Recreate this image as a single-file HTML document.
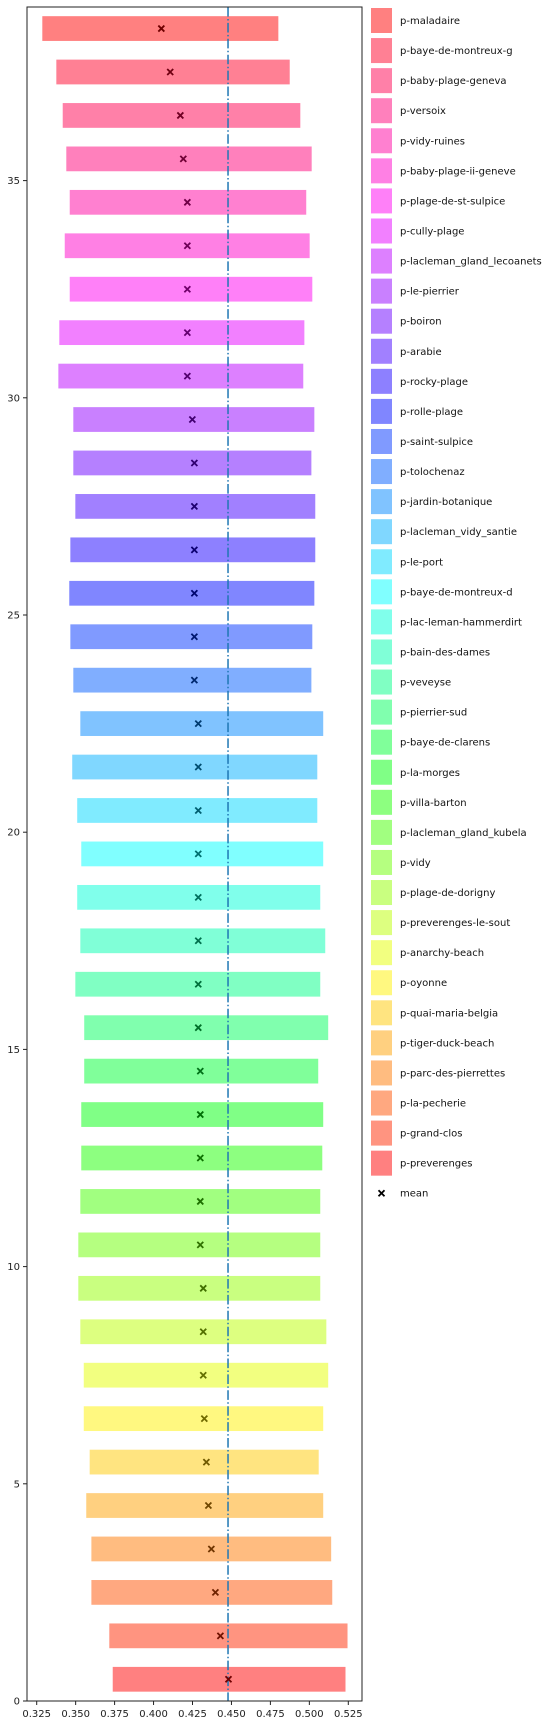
<!DOCTYPE html>
<html><head><meta charset="utf-8"><style>
html,body{margin:0;padding:0;background:#fff;}
svg{display:block;font-family:"DejaVu Sans","Liberation Sans",sans-serif;}
</style></head><body>
<svg id="chart" width="551" height="1727" xmlns="http://www.w3.org/2000/svg">
<g id="plot"></g>
<g id="legend"></g>
</svg>
<script>
const categories = ["p-preverenges","p-grand-clos","p-la-pecherie","p-parc-des-pierrettes","p-tiger-duck-beach","p-quai-maria-belgia","p-oyonne","p-anarchy-beach","p-preverenges-le-sout","p-plage-de-dorigny","p-vidy","p-lacleman_gland_kubela","p-villa-barton","p-la-morges","p-baye-de-clarens","p-pierrier-sud","p-veveyse","p-bain-des-dames","p-lac-leman-hammerdirt","p-baye-de-montreux-d","p-le-port","p-lacleman_vidy_santie","p-jardin-botanique","p-tolochenaz","p-saint-sulpice","p-rolle-plage","p-rocky-plage","p-arabie","p-boiron","p-le-pierrier","p-lacleman_gland_lecoanets","p-cully-plage","p-plage-de-st-sulpice","p-baby-plage-ii-geneve","p-vidy-ruines","p-versoix","p-baby-plage-geneva","p-baye-de-montreux-g","p-maladaire"];
const lows = [0.3738,0.3716,0.3601,0.3601,0.3568,0.3590,0.3552,0.3552,0.3530,0.3517,0.3517,0.3530,0.3536,0.3536,0.3555,0.3555,0.3498,0.3530,0.3510,0.3536,0.3510,0.3478,0.3530,0.3485,0.3466,0.3459,0.3466,0.3498,0.3485,0.3485,0.3389,0.3395,0.3462,0.3430,0.3462,0.3440,0.3417,0.3376,0.3286];
const highs = [0.5232,0.5245,0.5147,0.5140,0.5089,0.5060,0.5089,0.5121,0.5109,0.5070,0.5070,0.5070,0.5083,0.5089,0.5057,0.5121,0.5070,0.5102,0.5070,0.5089,0.5051,0.5051,0.5089,0.5013,0.5019,0.5032,0.5038,0.5038,0.5013,0.5032,0.4961,0.4968,0.5019,0.5002,0.4980,0.5015,0.4942,0.4874,0.4801];
const means = [0.4481,0.4429,0.4397,0.4371,0.4352,0.4339,0.4326,0.4319,0.4319,0.4319,0.4300,0.4300,0.4300,0.4300,0.4300,0.4287,0.4287,0.4287,0.4287,0.4287,0.4287,0.4287,0.4287,0.4262,0.4262,0.4262,0.4262,0.4262,0.4262,0.4249,0.4217,0.4217,0.4217,0.4217,0.4217,0.4191,0.4172,0.4107,0.4050];
const overallMean = 0.4478;
const xTicks = [0.325,0.350,0.375,0.400,0.425,0.450,0.475,0.500,0.525];
const yTicks = [0,5,10,15,20,25,30,35];

const NS = "http://www.w3.org/2000/svg";
const L = 27, R = 362, T = 7, B = 1701;
const xs = v => 36.7 + (v - 0.325) * 1558;
const ys = v => 1701 - v * 43.44;
const barH = 0.57 * 43.44;
const n = categories.length;
function hue(i){ return 360 * i / (n - 1); }
function color(i){ return `hsl(${hue(i)},100%,75%)`; }
function mk(tag, attrs, parent){ const e = document.createElementNS(NS, tag); for (const k in attrs) e.setAttribute(k, attrs[k]); parent.appendChild(e); return e; }

const plot = document.getElementById('plot');
for (let i = 0; i < n; i++) {
  const y = ys(i + 0.5);
  const r = mk('rect', {x: xs(lows[i]), y: y - barH/2, width: xs(highs[i]) - xs(lows[i]), height: barH, fill: color(i)}, plot);
  
  
}
const ml = mk('line', {x1: xs(overallMean), x2: xs(overallMean), y1: T, y2: B, stroke: '#1f77b4', 'stroke-width': 1.5, 'stroke-dasharray': '9.6,2.4,1.5,2.4'}, plot);


for (let i = 0; i < n; i++) {
  const cx = xs(means[i]), cy = ys(i + 0.5), s = 3;
  const m = mk('path', {d: `M${cx-s},${cy-s}L${cx+s},${cy+s}M${cx-s},${cy+s}L${cx+s},${cy-s}`, stroke: `hsl(${hue(i)},100%,22%)`, 'stroke-width': 1.8}, plot);
  
  
}
const frame = mk('rect', {x: L, y: T, width: R - L, height: B - T, fill: 'none', stroke: '#222', 'stroke-width': 1}, plot);


xTicks.forEach(v => {
  const x = xs(v);
  mk('line', {x1: x, x2: x, y1: B, y2: B + 4, stroke: '#222'}, plot);
  const t = mk('text', {x: x, y: B + 16, 'font-size': 10, 'text-anchor': 'middle', fill: '#222'}, plot);
  t.textContent = v.toFixed(3);
  
  
});
yTicks.forEach(v => {
  const y = ys(v);
  mk('line', {x1: L - 4, x2: L, y1: y, y2: y, stroke: '#222'}, plot);
  const t = mk('text', {x: L - 7, y: y + 3.5, 'font-size': 10, 'text-anchor': 'end', fill: '#222'}, plot);
  t.textContent = v;
  
  
});

const leg = document.getElementById('legend');
for (let k = 0; k < n; k++) {
  const i = n - 1 - k;
  const cy = 20.5 + k * 30.07;
  const sw = mk('rect', {x: 371, y: cy - 12.5, width: 21, height: 25, fill: color(i)}, leg);
  
  
  const t = mk('text', {x: 400, y: cy + 3.5, 'font-size': 10, fill: '#111'}, leg);
  t.textContent = categories[i];
  
  
}
const my = 20.5 + n * 30.07, mx = 381.5;
const mm = mk('path', {d: `M${mx-3},${my-3}L${mx+3},${my+3}M${mx-3},${my+3}L${mx+3},${my-3}`, stroke: '#000', 'stroke-width': 1.8}, leg);


const mt = mk('text', {x: 400, y: my + 3.5, 'font-size': 10, fill: '#111'}, leg);
mt.textContent = 'mean';


</script>
</body></html>
